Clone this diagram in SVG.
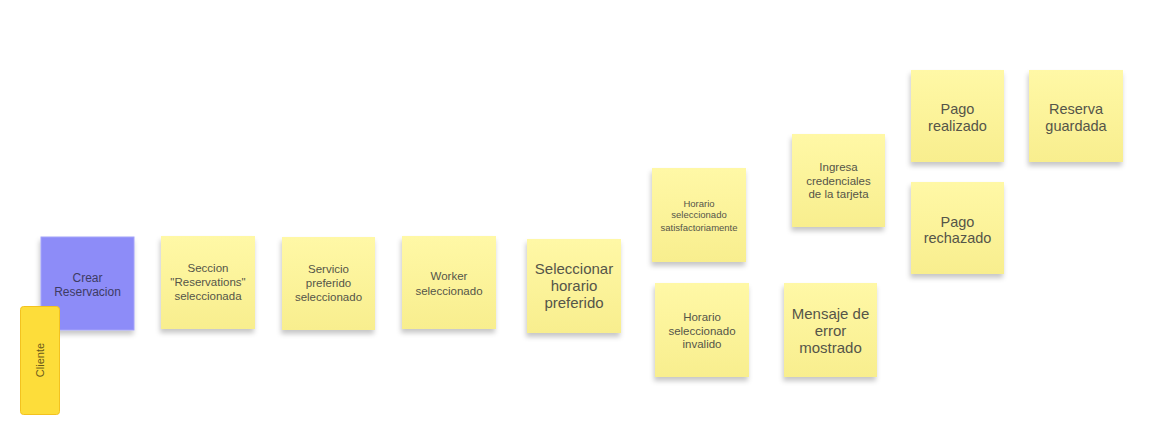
<svg xmlns="http://www.w3.org/2000/svg" width="1154" height="439" viewBox="0 0 1154 439">
<defs>
<linearGradient id="sticky" x1="0" y1="0" x2="0" y2="1">
<stop offset="0" stop-color="#fff8a6"/>
<stop offset="1" stop-color="#f8ee8e"/>
</linearGradient>
<filter id="shadow" x="-20%" y="-20%" width="140%" height="150%">
<feDropShadow dx="-1" dy="4" stdDeviation="2.5" flood-color="#000" flood-opacity="0.22"/>
</filter>
<style>
.note{fill:url(#sticky);filter:url(#shadow);}
.t{font-family:"Liberation Sans",Arial,sans-serif;fill:#555549;text-anchor:middle;}
.s{font-size:11.5px;}
.l{font-size:15px;}
.m{font-size:14.5px;}
.xs{font-size:9.5px;}
</style>
</defs>
<rect width="1154" height="439" fill="#ffffff"/>
<g id="connectors"></g>
<g id="crear">
<rect x="41" y="237" width="93" height="93" fill="#8d8cf8" stroke="#a4a3fa" stroke-width="1" filter="url(#shadow)"/>
<text class="t" style="font-size:12px;fill:#3d3b63" x="87.5" y="281.5">Crear</text>
<text class="t" style="font-size:12px;fill:#3d3b63" x="87.5" y="295.5">Reservacion</text>
</g>
<g id="cliente">
<rect x="20.5" y="306.5" width="39" height="108" rx="3" fill="#fddd3a" stroke="#f3c21f" stroke-width="1"/>
<text class="t" style="font-size:11px;fill:#6b5a1a" transform="translate(44,360) rotate(-90)">Cliente</text>
</g>
<g id="seccion">
<rect class="note" x="161" y="236" width="94" height="93"/>
<text class="t s" x="208" y="272">Seccion</text>
<text class="t s" x="208" y="286">"Reservations"</text>
<text class="t s" x="208" y="300">seleccionada</text>
</g>
<g id="servicio">
<rect class="note" x="282" y="237" width="93" height="93"/>
<text class="t s" x="328.5" y="273">Servicio</text>
<text class="t s" x="328.5" y="287">preferido</text>
<text class="t s" x="328.5" y="301">seleccionado</text>
</g>
<g id="worker">
<rect class="note" x="402" y="236" width="94" height="93"/>
<text class="t s" x="449" y="280">Worker</text>
<text class="t s" x="449" y="295">seleccionado</text>
</g>
<g id="seleccionar">
<rect class="note" x="527" y="239" width="94" height="94"/>
<text class="t l" x="574" y="273.5">Seleccionar</text>
<text class="t l" x="574" y="290.5">horario</text>
<text class="t l" x="574" y="307.5">preferido</text>
</g>
<g id="horario-ok">
<rect class="note" x="652" y="168" width="94" height="94"/>
<text class="t xs" x="699" y="206.5">Horario</text>
<text class="t xs" x="699" y="218">seleccionado</text>
<text class="t xs" x="699" y="230.5">satisfactoriamente</text>
</g>
<g id="horario-invalido">
<rect class="note" x="655" y="283" width="94" height="94"/>
<text class="t s" x="702" y="321">Horario</text>
<text class="t s" x="702" y="335">seleccionado</text>
<text class="t s" x="702" y="348">invalido</text>
</g>
<g id="ingresa">
<rect class="note" x="792" y="134" width="93" height="93"/>
<text class="t s" x="838.5" y="171">Ingresa</text>
<text class="t s" x="838.5" y="185">credenciales</text>
<text class="t s" x="838.5" y="198">de la tarjeta</text>
</g>
<g id="mensaje">
<rect class="note" x="784" y="283" width="93" height="94"/>
<text class="t l" x="830.5" y="318.5">Mensaje de</text>
<text class="t l" x="830.5" y="335.5">error</text>
<text class="t l" x="830.5" y="352.5">mostrado</text>
</g>
<g id="pago-realizado">
<rect class="note" x="911" y="70" width="93" height="92"/>
<text class="t m" x="957.5" y="114">Pago</text>
<text class="t m" x="957.5" y="131">realizado</text>
</g>
<g id="reserva-guardada">
<rect class="note" x="1029" y="70" width="94" height="92"/>
<text class="t m" x="1076" y="114">Reserva</text>
<text class="t m" x="1076" y="131">guardada</text>
</g>
<g id="pago-rechazado">
<rect class="note" x="911" y="182" width="93" height="92"/>
<text class="t m" x="957.5" y="227">Pago</text>
<text class="t m" x="957.5" y="243">rechazado</text>
</g>
</svg>
